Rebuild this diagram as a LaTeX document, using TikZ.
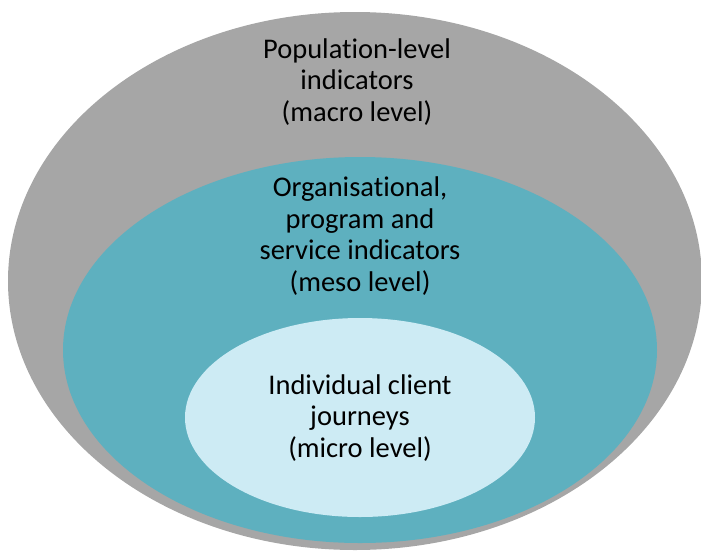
\documentclass[tikz,border=0pt]{standalone}
\usepackage{fontspec}
\setmainfont{Carlito}[RawFeature={-liga}]
\usetikzlibrary{shapes.geometric}
\definecolor{outergray}{HTML}{A6A6A6}
\definecolor{mesoteal}{HTML}{5EB0BF}
\definecolor{microblue}{HTML}{CDEBF4}
\tikzset{
  level/.style={ellipse, inner sep=0pt, draw=none},
  label text/.style={align=center, text=black, font=\fontsize{28.5}{31.5}\selectfont}
}
\begin{document}
\begin{tikzpicture}[x=1pt,y=-1pt]
\useasboundingbox (0,0) rectangle (701,552);
\node[level, fill=outergray, minimum width=694pt, minimum height=538pt] (macro) at (355,281) {};
\node[level, fill=mesoteal, minimum width=594pt, minimum height=386pt] (meso) at (360,350) {};
\node[level, fill=microblue, minimum width=350pt, minimum height=199pt] (micro) at (360,417.5) {};
\node[label text] (tmacro) at (357,82) {Population-level\\indicators\\(macro level)};
\node[label text] (tmeso) at (360,236) {Organisational,\\program and\\service indicators\\(meso level)};
\node[label text] (tmicro) at (360,418) {Individual client\\journeys\\(micro level)};
\end{tikzpicture}
\end{document}
